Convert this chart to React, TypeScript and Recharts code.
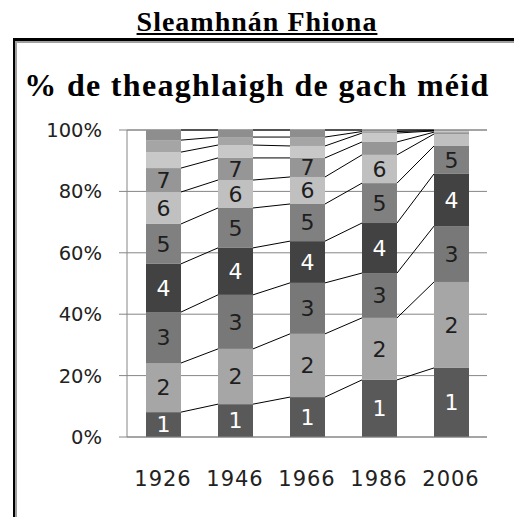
import React from "react";
import { BarChart, Bar, XAxis, YAxis, CartesianGrid, LabelList } from "recharts";

// census years
const years = ["1926", "1946", "1966", "1986", "2006"];

// % of households of each size (1 person ... 10+ persons)
const size1 = [8.1, 10.7, 13.0, 18.6, 22.5];
const size2 = [16.0, 18.0, 20.6, 20.2, 28.0];
const size3 = [16.6, 17.6, 16.6, 14.6, 18.2];
const size4 = [15.7, 15.3, 13.6, 16.3, 17.0];
const size5 = [13.0, 13.0, 12.1, 13.0, 9.1];
const size6 = [10.4, 9.1, 8.8, 9.2, 3.9];
const size7 = [7.8, 7.2, 6.2, 4.2, 0.6];
const size8 = [5.2, 4.2, 3.9, 2.9, 0.4];
const size9 = [3.9, 2.6, 2.9, 0.5, 0.1];
const size10 = [3.3, 2.3, 2.3, 0.5, 0.2];

const yTicks = [0, 20, 40, 60, 80, 100];

const sizes = [size1, size2, size3, size4, size5, size6, size7, size8, size9, size10];
const colors = [
  "#595959", "#a6a6a6", "#787878", "#424242", "#808080",
  "#c0c0c0", "#969696", "#c8c8c8", "#a5a5a5", "#8e8e8e",
];

const data = years.map((year, i) => {
  const row: Record<string, string | number> = { year };
  sizes.forEach((s, k) => (row[`s${k + 1}`] = s[i]));
  return row;
});

// bar geometry of the previous year, per series, so the shape can draw the series lines
const seen: Record<string, { x: number; y: number; width: number }[]> = {};

const makeShape = (key: string) => (props: any) => {
  const { x, y, width, height, index, fill } = props;
  if (!seen[key]) seen[key] = [];
  seen[key][index] = { x, y, width };
  const prev = index > 0 ? seen[key][index - 1] : null;
  return (
    <g>
      <rect x={x} y={y} width={width} height={height} fill={fill} />
      {prev && (
        <line x1={prev.x + prev.width} y1={prev.y} x2={x} y2={y} stroke="#000" strokeWidth={1} />
      )}
    </g>
  );
};

const makeLabel = (seg: number) => (props: any) => {
  const { x, y, width, height, value } = props;
  if (seg > 7 || Number(value) < 6) return null;
  const light = seg === 1 || seg === 4;
  return (
    <text
      x={Number(x) + Number(width) / 2}
      y={Number(y) + Number(height) / 2}
      dy="0.36em"
      textAnchor="middle"
      fontSize={22}
      fontFamily="DejaVu Sans"
      fill={light ? "#fff" : "#1e1e1e"}
    >
      {seg}
    </text>
  );
};

const yTickStyle = { fontSize: 19.5, fill: "#222", fontFamily: "DejaVu Sans" };
const xTickStyle = { fontSize: 21, fill: "#222", fontFamily: "DejaVu Sans", letterSpacing: 1 };

export default function App() {
  return (
    <div style={{ position: "absolute", left: 0, top: 0, width: 514, height: 517, background: "#fff", overflow: "hidden" }}>
      <div
        style={{
          position: "absolute", left: 13, top: 38, width: 540, height: 520,
          borderLeft: "2px solid #000", borderTop: "3px solid #000",
          boxShadow: "inset 2px 2px 0 #a0a0a0",
        }}
      />
      <div
        style={{
          position: "absolute", left: 0, top: 6, width: 514, textAlign: "center",
          fontFamily: "Liberation Serif", fontWeight: "bold", fontSize: 28,
          letterSpacing: 1, textDecoration: "underline", lineHeight: "32px",
        }}
      >
        Sleamhnán Fhiona
      </div>
      <div
        style={{
          position: "absolute", left: 0, top: 66, width: 514, textAlign: "center",
          fontFamily: "Liberation Serif", fontWeight: "bold", fontSize: 32,
          letterSpacing: 1.3, lineHeight: "38px",
        }}
      >
        % de theaghlaigh de gach méid
      </div>
      <div style={{ position: "absolute", left: 0, top: 0 }}>
        <BarChart width={514} height={517} data={data} margin={{ top: 130, right: 27, left: 67, bottom: 40 }}>
          <CartesianGrid vertical={false} stroke="#868686" />
          <XAxis
            dataKey="year" height={40} tick={xTickStyle} tickLine={false}
            axisLine={{ stroke: "#868686" }} tickSize={0} tickMargin={34}
          />
          <YAxis
            width={60} domain={[0, 100]} ticks={yTicks} tick={yTickStyle}
            tickFormatter={(v: number) => `${v}%`} tickSize={8} tickMargin={17}
            axisLine={{ stroke: "#868686" }} tickLine={{ stroke: "#868686" }}
          />
          {sizes.map((_, k) => (
            <Bar
              key={k} dataKey={`s${k + 1}`} stackId="a" fill={colors[k]} barSize={35}
              shape={makeShape(`s${k + 1}`)} isAnimationActive={false}
            >
              <LabelList dataKey={`s${k + 1}`} content={makeLabel(k + 1)} />
            </Bar>
          ))}
        </BarChart>
      </div>
    </div>
  );
}
